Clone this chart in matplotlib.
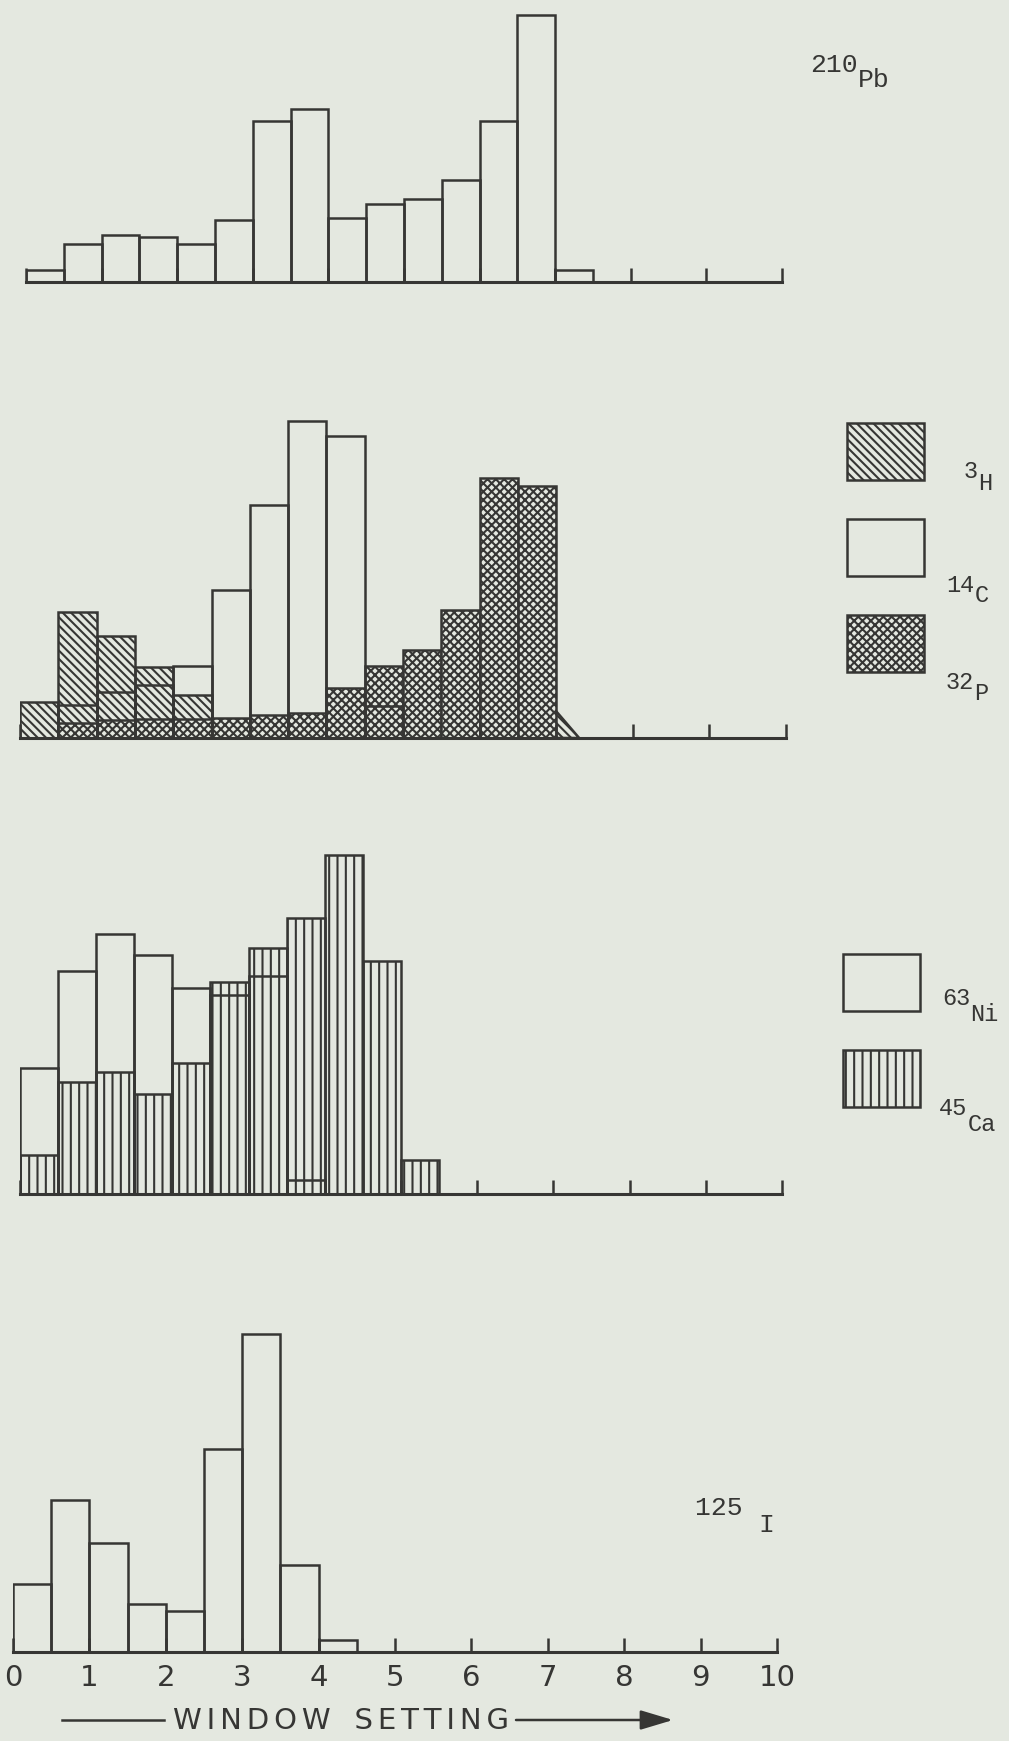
import numpy as np
import matplotlib
matplotlib.use('Agg')
import matplotlib.pyplot as plt
from matplotlib.patches import Patch
from matplotlib.lines import Line2D

# figure size in pixels (dpi 100)
W, H = 1009, 1741
paper = '#e4e8e0'
ink = '#363634'

plt.rcParams['hatch.color'] = ink
plt.rcParams['hatch.linewidth'] = 1.5
plt.rcParams['font.family'] = ['Liberation Mono', 'DejaVu Sans']

BIN = 0.5  # window bin width
DIAG = '\\' * 4
CROSS = 'xxxx'
VERT = '||'

# --- data: relative counts per 0.5 window bin, starting at 0 ---
pb210 = [12, 38, 47, 45, 38, 62, 161, 173, 64, 78, 83, 102, 161, 267, 12]

h3 = [36, 126, 102, 71, 43, 0, 0, 0, 0, 0, 0, 0, 0, 0]
c14 = [0, 33, 46, 53, 72, 148, 233, 317, 302, 32, 0, 0, 0, 0]
p32 = [0, 15, 18, 19, 19, 20, 23, 25, 50, 72, 88, 128, 260, 252]
h3_tail_x = [6.93, 7.3, 6.93]   # hatched tail after the last 32P bin
h3_tail_y = [33, 0, 0]

ni63 = [126, 223, 260, 239, 206, 199, 218, 14, 0, 0, 0]
ca45 = [39, 112, 122, 100, 131, 212, 246, 276, 339, 233, 34]

i125 = [68, 152, 109, 48, 41, 203, 318, 87, 12]

tick_vals = list(range(11))
sp = '\u2006'  # six-per-em space to open up the lettering
xlabel = sp.join('WINDOW') + ' ' + sp * 3 + sp.join('SETTING')

fig = plt.figure(figsize=(W / 100, H / 100), dpi=100, facecolor=paper)


def panel(x0, x10, base, height):
    # x0/x10: pixel x of window 0 and 10, base: pixel y of the axis line
    ax = fig.add_axes([x0 / W, 1 - base / H, (x10 - x0) / W, height / H])
    ax.set_xlim(0, 10)
    ax.set_ylim(0, height)
    ax.patch.set_visible(False)
    for s in ['top', 'right', 'left']:
        ax.spines[s].set_visible(False)
    ax.spines['bottom'].set_linewidth(2.2)
    ax.spines['bottom'].set_color(ink)
    ax.set_yticks([])
    ax.set_xticks(tick_vals)
    ax.tick_params(axis='x', direction='in', length=10, width=1.8,
                   color=ink, labelbottom=False)
    return ax


def bars(ax, vals, **kw):
    left = np.arange(len(vals)) * BIN
    return ax.bar(left, vals, width=BIN, align='edge', edgecolor=ink,
                  linewidth=1.8, **kw)


def iso(mass, sym, x, y, drop, size):
    # typewriter style isotope label: mass number, then the symbol
    # one carriage step further on and dropped below the line
    pitch = 0.6 * size * 100 / 72   # Liberation Mono advance width
    fig.text(x / W, 1 - y / H, mass, fontsize=size, color=ink,
             va='baseline', ha='left')
    fig.text((x + len(mass) * pitch) / W, 1 - (y + drop) / H, sym,
             fontsize=size, color=ink, va='baseline', ha='left')


def key(handles, x, y):
    fs_px = 20 * 100 / 72
    box = 77 / fs_px
    fig.legend(handles, [''] * len(handles), loc='upper left',
               bbox_to_anchor=(x / W, 1 - y / H),
               bbox_transform=fig.transFigure, frameon=False, fontsize=20,
               handlelength=box, handleheight=box,
               labelspacing=39 / fs_px, handletextpad=0, borderpad=0,
               borderaxespad=0)


# panel 1: 210Pb
ax1 = panel(26, 782, 282, 290)
bars(ax1, pb210, facecolor='none')
iso('210', 'Pb', 810, 72, 15, 19)

# panel 2: 3H, 14C, 32P
ax2 = panel(20, 786, 738, 330)
bars(ax2, h3, facecolor='none', hatch=DIAG)
ax2.fill(h3_tail_x, h3_tail_y, facecolor='none', edgecolor=ink,
         hatch=DIAG, linewidth=1.8)
bars(ax2, p32, facecolor=paper, hatch=CROSS)
bars(ax2, c14, facecolor='none')

key([Patch(facecolor=paper, edgecolor=ink, hatch=DIAG, linewidth=1.8),
     Patch(facecolor=paper, edgecolor=ink, linewidth=1.8),
     Patch(facecolor=paper, edgecolor=ink, hatch=CROSS, linewidth=1.8)],
    847, 423)
iso('3', 'H', 964, 478, 12, 17)
iso('14', 'C', 946, 592, 10, 17)
iso('32', 'P', 946, 689, 11, 17)

# panel 3: 63Ni, 45Ca
ax3 = panel(20, 782, 1194, 350)
bars(ax3, ca45, facecolor='none', hatch=VERT)
bars(ax3, ni63, facecolor='none')

key([Patch(facecolor=paper, edgecolor=ink, linewidth=1.8),
     Patch(facecolor=paper, edgecolor=ink, hatch=VERT, linewidth=1.8)],
    843, 954)
iso('63', 'Ni', 942, 1005, 16, 17)
iso('45', 'Ca', 939, 1115, 16, 17)

# panel 4: 125I with the window scale
ax4 = panel(13, 777, 1652, 330)
bars(ax4, i125, facecolor='none')
iso('125 ', 'I', 695, 1515, 17, 19)

ax4.tick_params(axis='x', labelbottom=True, labelsize=21, pad=9,
                labelcolor=ink)
for lbl in ax4.get_xticklabels():
    lbl.set_fontfamily(['DejaVu Sans'])

fig.text(173 / W, 1 - 1721 / H, xlabel, fontsize=21, color=ink,
         family=['DejaVu Sans'], va='center', ha='left')
fig.add_artist(Line2D([62 / W, 164 / W], [1 - 1720 / H, 1 - 1720 / H],
                      transform=fig.transFigure, color=ink, linewidth=1.8))
ax4.annotate('', xy=(673 / W, 1 - 1720 / H), xytext=(516 / W, 1 - 1720 / H),
             xycoords='figure fraction', textcoords='figure fraction',
             arrowprops=dict(arrowstyle='-|>,head_length=1.0,head_width=0.3',
                             mutation_scale=20, color=ink, linewidth=1.8,
                             shrinkA=0, shrinkB=0))

fig.savefig('out.png', dpi=100, facecolor=paper)
